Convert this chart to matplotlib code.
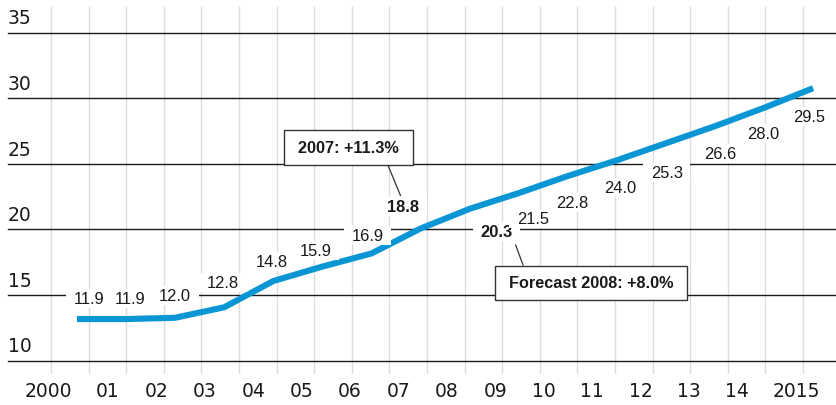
import numpy as np
import matplotlib
matplotlib.use("Agg")
import matplotlib.pyplot as plt
from matplotlib.path import Path
from matplotlib.transforms import ScaledTranslation

# ---------------- data ----------------
years = ["2000", "01", "02", "03", "04", "05", "06", "07",
         "08", "09", "10", "11", "12", "13", "14", "2015"]
values = [11.9, 11.9, 12.0, 12.8, 14.8, 15.9, 16.9, 18.8,
          20.3, 21.5, 22.8, 24.0, 25.3, 26.6, 28.0, 29.5]
bold_labels = [7, 8]
yticks = [10, 15, 20, 25, 30, 35]
callout_2007 = "2007: +11.3%"
callout_2008 = "Forecast 2008: +8.0%"

# ---------------- layout / style ----------------
W, H, DPI = 837, 406, 100
X0, DX = 77.0, 49.07          # pixel of first point, pixel per year
PX_PER_UNIT = 13.12
BLUE = "#0a96d5"
INK = "#1a1a1a"

fig = plt.figure(figsize=(W / DPI, H / DPI), dpi=DPI)
ax = fig.add_axes([0, 31 / H, 1, 375 / H])
ax.set_xlim(-X0 / DX, (W - X0) / DX)
ax.set_ylim(10 - 30 / PX_PER_UNIT, 35 + 17 / PX_PER_UNIT)
for s in ax.spines.values():
    s.set_visible(False)


def px_to_x(px):
    return (px - X0) / DX


def offset(dx, dy):
    return ScaledTranslation(dx / DPI, dy / DPI, fig.dpi_scale_trans)


def make_box(padx, pady):
    def box(x0, y0, width, height, mutation_size):
        px, py = padx * mutation_size, pady * mutation_size
        verts = [(x0 - px, y0 - py), (x0 + width + px, y0 - py),
                 (x0 + width + px, y0 + height + py), (x0 - px, y0 + height + py),
                 (x0 - px, y0 - py)]
        codes = [Path.MOVETO, Path.LINETO, Path.LINETO, Path.LINETO, Path.CLOSEPOLY]
        return Path(verts, codes)
    return box


# vertical light grid (decorative)
vx = (51 + 37.6 * np.arange(21)) / W
ax.vlines(vx, 0, 1 - 7 / 375, transform=ax.transAxes, colors="#dcdcdc",
          lw=1.0, zorder=0)

# horizontal rules, drawn just below each y label
for v in yticks:
    ax.plot([8 / W, 1], [v, v], color=INK, lw=1.0, zorder=1, clip_on=False,
            transform=ax.get_yaxis_transform() + offset(0, -16.5))

# y tick labels inside, left aligned
ax.set_yticks(yticks)
ax.set_yticklabels([str(t) for t in yticks], fontsize=13.5, color=INK,
                   family="DejaVu Sans")
ax.tick_params(axis="y", length=0, pad=-8 * 72 / DPI)
for t in ax.get_yticklabels():
    t.set_ha("left")

# x tick labels
centers = 59.6 + 48.4 * np.arange(len(years))
centers[0] = 48
centers[-1] = 796
ax.set_xticks([px_to_x(c) for c in centers])
ax.set_xticklabels(years, fontsize=13.5, color=INK, family="DejaVu Sans")
ax.tick_params(axis="x", length=0, pad=5)

# main line
x = np.arange(len(values))
ax.plot(x, values, color=BLUE, lw=4.4, solid_capstyle="butt",
        solid_joinstyle="round", zorder=3)

# value labels
offs = [(12, 21), (4, 21), (0, 22), (-1, 25), (-1, 20), (-7, 16), (-4, 18),
        (-17, 22), (27, -23), (14, -25), (5, -26), (3, -27), (1, -29),
        (5, -27), (-1, -26), (-4, -28)]
for i, (v, o) in enumerate(zip(values, offs)):
    ax.annotate(f"{v:.1f}", xy=(i, v), xytext=o, textcoords="offset pixels",
                ha="center", va="center", fontsize=11.9, color=INK,
                family="Liberation Sans",
                fontweight="bold" if i in bold_labels else "normal",
                bbox=dict(boxstyle=make_box(0.46, 0.12), fc="white", ec="none"),
                zorder=4)

# callouts
cbox = dict(boxstyle=make_box(0.86, 0.6), fc="white", ec="#333333", lw=1.0)
ax.annotate(callout_2007, xy=(7, values[7]),
            xycoords=ax.transData + offset(-20, 33),
            xytext=(-52, 48), textcoords="offset pixels",
            ha="center", va="center", fontsize=11.7, fontweight="bold",
            family="Liberation Sans", color=INK, bbox=cbox,
            arrowprops=dict(arrowstyle="-", color="#333333", lw=0.9,
                            relpos=(0.85, 0), shrinkA=0, shrinkB=0),
            zorder=5)
ax.annotate(callout_2008, xy=(8, values[8]),
            xycoords=ax.transData + offset(46, -36),
            xytext=(75.5, -38), textcoords="offset pixels",
            ha="center", va="center", fontsize=11.7, fontweight="bold",
            family="Liberation Sans", color=INK, bbox=cbox,
            arrowprops=dict(arrowstyle="-", color="#333333", lw=0.9,
                            relpos=(0.11, 1), shrinkA=0, shrinkB=0),
            zorder=5)

fig.savefig("out.png", dpi=DPI)
